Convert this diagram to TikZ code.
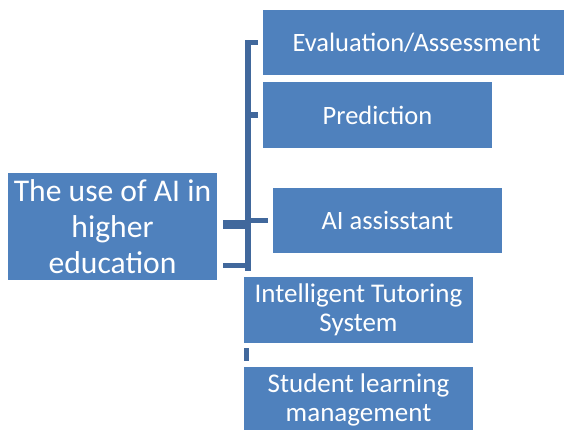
\documentclass[tikz,border=0pt]{standalone}
\usepackage{fontspec}
\setmainfont{Carlito}
\definecolor{boxblue}{HTML}{4F81BD}
\definecolor{barblue}{HTML}{41689C}

\begin{document}
\begin{tikzpicture}
  [x=1pt,y=-1pt,
   box/.style={rectangle,fill=boxblue,text=white,align=center,inner sep=0pt,
     minimum width=229pt,minimum height=66pt,
     font=\fontsize{26.5}{29}\selectfont},
   bar/.style={draw=barblue,line width=5.5pt}]
  \useasboundingbox (0,0) rectangle (564,429);
  \clip (0,0) rectangle (564,429);

  \node[box,minimum width=209pt,minimum height=107pt,
    font=\fontsize{31.6}{36}\selectfont] (main) at (112.5,226.5)
    {The use of AI in\\higher\\education};
  \node[box,minimum width=301pt,minimum height=65pt] (eval) at (413.5,42.5) {\hspace{6pt}Evaluation/Assessment};
  \node[box] (pred) at (377.5,115) {Prediction};
  \node[box,minimum height=65pt] (assist) at (387.5,220.5) {AI assisstant};
  \node[box,font=\fontsize{27}{29}\selectfont] (its) at (358.5,310) {Intelligent Tutoring\\System};
  \node[box,font=\fontsize{27}{29}\selectfont] (slm) at (358.5,400) {Student learning\\management};

  \coordinate (bartop) at (248,40);
  \coordinate (barbot) at (248,271);
  \coordinate (lowtick) at (217,265.5);

\path[bar]
    (bartop) edge (barbot)
    (bartop |- eval.west) edge [shorten >=5pt] (eval.west)
    (bartop |- pred.west) edge [shorten >=5pt] (pred.west)
    (bartop |- assist.west) edge [shorten >=5pt] (assist.west)
    ([yshift=2pt]main.east) edge [line width=9pt,shorten <=6pt] ([yshift=2pt]main.east -| bartop)
    (lowtick) edge [shorten <=6pt] (lowtick -| bartop)
    ([xshift=2.5pt]its.south west) edge [line width=5pt,shorten <=5pt,shorten >=6pt] ([xshift=2.5pt]slm.north west)
    ;

\end{tikzpicture}
\end{document}
